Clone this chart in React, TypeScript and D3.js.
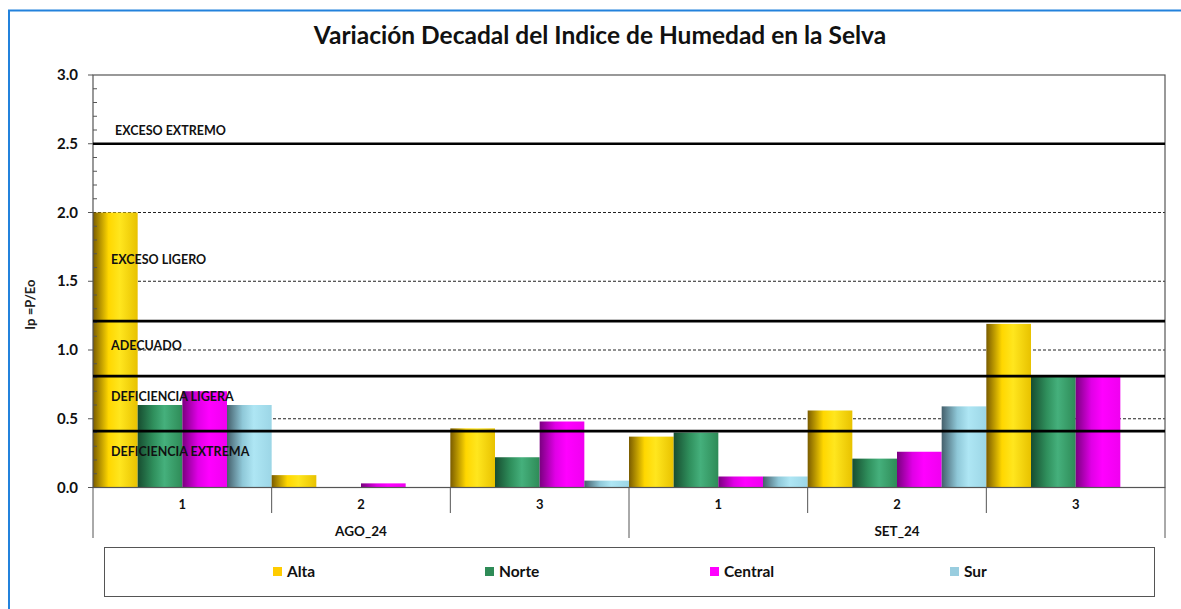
import React, { useEffect, useRef } from "react";
import * as d3 from "d3";

// decadas (x) agrupadas por mes
const decadas = ["1", "2", "3", "1", "2", "3"];
const meses = ["AGO_24", "SET_24"];
const series = ["Alta", "Norte", "Central", "Sur"];

const alta = [2.0, 0.09, 0.43, 0.37, 0.56, 1.19];
const norte = [0.6, 0, 0.22, 0.4, 0.21, 0.81];
const central = [0.7, 0.03, 0.48, 0.08, 0.26, 0.81];
const sur = [0.6, 0, 0.05, 0.08, 0.59, 0];

// umbrales del indice (lineas negras)
const umbrales = [2.5, 1.21, 0.81, 0.41];
const rangos = ["EXCESO EXTREMO", "EXCESO LIGERO", "ADECUADO", "DEFICIENCIA LIGERA", "DEFICIENCIA EXTREMA"];
const rangoPos = [2.6, 1.66, 1.03, 0.66, 0.26];

const yTicks = [0, 0.5, 1.0, 1.5, 2.0, 2.5, 3.0];

const COLORS = {
  Alta: { dark: "#7a5c00", mid: "#ffd700", light: "#ffe61e", edge: "#e8c200", legend: "#ffcc00" },
  Norte: { dark: "#174d30", mid: "#2f8f5c", light: "#45b07c", edge: "#2e8b57", legend: "#2e8b57" },
  Central: { dark: "#7a0080", mid: "#e000e6", light: "#ff00ff", edge: "#f000f0", legend: "#ff00ff" },
  Sur: { dark: "#45606c", mid: "#8fc8d8", light: "#aee6f4", edge: "#9cd6e6", legend: "#99cddf" },
};

const FONT = "Lato, 'Open Sans', sans-serif";

const App = () => {
  const ref = useRef(null);
  const width = 1181;
  const height = 609;

  useEffect(() => {
    const svg = d3.select(ref.current);
    svg.selectAll("*").remove();

    const left = 93, right = 1165, top = 75, bottom = 487.5;
    const y = d3.scaleLinear().domain([0, 3]).range([bottom, top]);
    const x0 = d3.scaleBand().domain(decadas.map((_, i) => String(i))).range([left, right]).padding(0);
    const x1 = d3.scaleBand().domain(series).range([0, x0.bandwidth()]).padding(0);

    const defs = svg.append("defs");
    series.forEach((s) => {
      const c = COLORS[s];
      const gr = defs.append("linearGradient").attr("id", "grad-" + s).attr("x1", "0%").attr("x2", "100%");
      gr.append("stop").attr("offset", "0%").attr("stop-color", c.dark);
      gr.append("stop").attr("offset", "35%").attr("stop-color", c.mid);
      gr.append("stop").attr("offset", "60%").attr("stop-color", c.light);
      gr.append("stop").attr("offset", "100%").attr("stop-color", c.edge);
    });

    // marco azul
    svg.append("rect")
      .attr("x", 9).attr("y", 10.5).attr("width", 1200).attr("height", 700)
      .attr("fill", "white").attr("stroke", "#2382dc").attr("stroke-width", 2);

    // titulo
    svg.append("text")
      .attr("x", 600).attr("y", 44)
      .attr("text-anchor", "middle")
      .style("font-family", FONT).style("font-weight", "bold").style("font-size", "24.5px")
      .attr("fill", "#111")
      .text("Variación Decadal del Indice de Humedad en la Selva");

    // grilla punteada
    [0.5, 1.0, 1.5, 2.0].forEach((v) => {
      svg.append("line")
        .attr("x1", left).attr("x2", right).attr("y1", y(v)).attr("y2", y(v))
        .attr("stroke", "#222").attr("stroke-width", 1).attr("stroke-dasharray", "3,2");
    });

    // barras
    const valores = { Alta: alta, Norte: norte, Central: central, Sur: sur };
    decadas.forEach((_, i) => {
      series.forEach((s) => {
        const v = valores[s][i];
        if (!v) return;
        svg.append("rect")
          .attr("x", x0(String(i)) + x1(s))
          .attr("y", y(v))
          .attr("width", x1.bandwidth())
          .attr("height", y(0) - y(v))
          .attr("fill", `url(#grad-${s})`);
      });
    });

    // ejes / borde del area
    svg.append("rect")
      .attr("x", left).attr("y", top).attr("width", right - left).attr("height", bottom - top)
      .attr("fill", "none").attr("stroke", "#555").attr("stroke-width", 1.2);

    // ticks menores (interiores)
    d3.range(1, 30).forEach((k) => {
      if (k % 5 === 0) return;
      svg.append("line")
        .attr("x1", left).attr("x2", left + 4).attr("y1", y(k / 10)).attr("y2", y(k / 10))
        .attr("stroke", "#555");
    });
    // ticks mayores y etiquetas
    yTicks.forEach((v) => {
      svg.append("line")
        .attr("x1", left - 5).attr("x2", left).attr("y1", y(v)).attr("y2", y(v))
        .attr("stroke", "#555");
      svg.append("text")
        .attr("x", 78).attr("y", y(v) + 5)
        .attr("text-anchor", "end")
        .style("font-family", FONT).style("font-weight", "bold").style("font-size", "15px")
        .attr("fill", "#111")
        .text(v.toFixed(1));
    });

    svg.append("text")
      .attr("transform", `translate(35, ${y(1.33)}) rotate(-90)`)
      .attr("text-anchor", "middle")
      .style("font-family", FONT).style("font-weight", "bold").style("font-size", "13px")
      .attr("fill", "#222")
      .text("Ip =P/Eo");

    // umbrales
    umbrales.forEach((v) => {
      svg.append("line")
        .attr("x1", left).attr("x2", right).attr("y1", y(v)).attr("y2", y(v))
        .attr("stroke", "#000").attr("stroke-width", 2.6);
    });

    // etiquetas de rangos
    rangos.forEach((r, i) => {
      svg.append("text")
        .attr("x", i === 0 ? 115 : 111).attr("y", y(rangoPos[i]) + 4.5)
        .style("font-family", FONT).style("font-weight", "bold").style("font-size", "12.5px")
        .attr("fill", "#111")
        .text(r);
    });

    // eje x: decadas
    decadas.forEach((d, i) => {
      const x = x0(String(i));
      svg.append("line")
        .attr("x1", x).attr("x2", x).attr("y1", bottom).attr("y2", i % 3 === 0 ? 538 : 513)
        .attr("stroke", "#555");
      svg.append("text")
        .attr("x", x + x0.bandwidth() / 2).attr("y", 509)
        .attr("text-anchor", "middle")
        .style("font-family", FONT).style("font-weight", "bold").style("font-size", "13px")
        .attr("fill", "#111")
        .text(d);
    });
    svg.append("line")
      .attr("x1", right).attr("x2", right).attr("y1", bottom).attr("y2", 538)
      .attr("stroke", "#555");
    meses.forEach((m, j) => {
      const xa = x0(String(j * 3));
      svg.append("text")
        .attr("x", xa + (x0.bandwidth() * 3) / 2).attr("y", 535.5)
        .attr("text-anchor", "middle")
        .style("font-family", FONT).style("font-weight", "bold").style("font-size", "13.5px")
        .attr("fill", "#111")
        .text(m);
    });

    // leyenda
    svg.append("rect")
      .attr("x", 104.5).attr("y", 547.5).attr("width", 1050).attr("height", 49)
      .attr("fill", "white").attr("stroke", "#555");
    const legX = [273, 485, 710, 950];
    series.forEach((s, i) => {
      svg.append("rect")
        .attr("x", legX[i]).attr("y", 567).attr("width", 9).attr("height", 9)
        .attr("fill", COLORS[s].legend);
      svg.append("text")
        .attr("x", legX[i] + 14).attr("y", 577)
        .style("font-family", FONT).style("font-weight", "bold").style("font-size", "15.5px")
        .attr("fill", "#111")
        .text(s);
    });
  }, []);

  return (
    <svg
      ref={ref}
      width={width}
      height={height}
      style={{ position: "absolute", top: 0, left: 0, display: "block", background: "white" }}
    ></svg>
  );
};

export default App;
